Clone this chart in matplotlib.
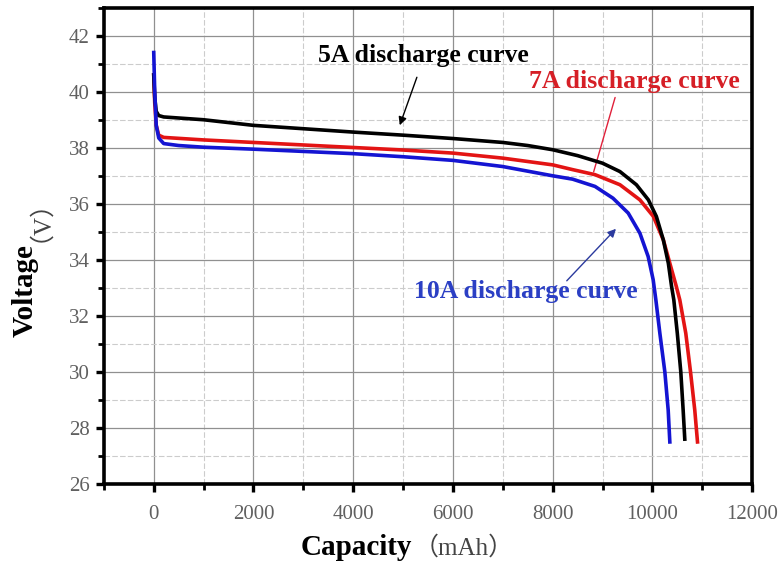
#Discharge curves of the battery pack at 5A, 7A and 10A
#Import Packages
import numpy as np
import matplotlib.pyplot as plt
from matplotlib.ticker import MultipleLocator

# 5A discharge (black)
cap_5a = [0, 20, 50, 100, 200, 1000, 2000, 3000, 4000, 5000, 6000, 7000, 7500, 8000,
          8500, 9000, 9350, 9680, 9920, 10080, 10220, 10320, 10385, 10430, 10500, 10570, 10617, 10650]
volt_5a = [40.6, 39.8, 39.3, 39.15, 39.1, 39.0, 38.8, 38.68, 38.56, 38.45, 38.33, 38.19, 38.08, 37.93,
           37.72, 37.45, 37.15, 36.68, 36.14, 35.55, 34.71, 33.88, 33.05, 32.57, 31.38, 30.0, 28.64, 27.6]

# 7A discharge (red)
cap_7a = [0, 20, 50, 100, 200, 1000, 2000, 3000, 4000, 5000, 6000, 7000, 8000,
          8400, 8850, 9350, 9750, 10020, 10220, 10350, 10480, 10550, 10670, 10765, 10850, 10905]
volt_7a = [40.6, 39.6, 38.8, 38.45, 38.37, 38.28, 38.19, 38.1, 38.01, 37.92, 37.81, 37.63, 37.39,
           37.22, 37.04, 36.68, 36.14, 35.55, 34.71, 33.88, 33.05, 32.57, 31.38, 30.0, 28.64, 27.5]

# 10A discharge (blue)
cap_10a = [0, 20, 50, 100, 200, 500, 1000, 2000, 3000, 4000, 5000, 6000, 7000, 8000,
           8400, 8850, 9210, 9515, 9750, 9915, 10016, 10070, 10150, 10250, 10317, 10350]
volt_10a = [41.4, 40.0, 38.8, 38.35, 38.15, 38.08, 38.02, 37.95, 37.87, 37.79, 37.68, 37.55, 37.33, 37.0,
            36.88, 36.62, 36.2, 35.67, 34.95, 34.12, 33.29, 32.57, 31.38, 30.0, 28.64, 27.5]

serif = ['Liberation Serif', 'Noto Sans CJK SC', 'DejaVu Serif']
tick_grey = '#606060'

fig = plt.figure(figsize=(7.81, 5.65), dpi=100)
ax = fig.add_axes([0.133, 0.1434, 0.830, 0.843])

ax.plot(cap_7a, volt_7a, color='#e31414', lw=2.6, zorder=3, solid_joinstyle='round')
ax.plot(cap_5a, volt_5a, color='black', lw=2.6, zorder=4, solid_joinstyle='round')
ax.plot(cap_10a, volt_10a, color='#1414d2', lw=2.6, zorder=5, solid_joinstyle='round')

ax.set_xlim(-1000, 12000)
ax.set_ylim(26, 43)
ax.xaxis.set_major_locator(MultipleLocator(2000))
ax.xaxis.set_minor_locator(MultipleLocator(1000))
ax.yaxis.set_major_locator(MultipleLocator(2))
ax.yaxis.set_minor_locator(MultipleLocator(1))

ax.grid(which='major', color='#909090', lw=0.9, ls='-', zorder=0)
ax.grid(which='minor', color='#cccccc', lw=0.8, ls=(0, (5, 2)), zorder=0)

for s in ax.spines.values():
    s.set_linewidth(2.6)
ax.tick_params(which='major', direction='out', length=6, width=2.4, top=False, right=False,
               labelsize=15, labelcolor=tick_grey)
ax.tick_params(axis='x', which='major', pad=9)
ax.tick_params(axis='y', which='major', pad=4)
ax.tick_params(which='minor', direction='out', length=4, width=2.0, top=False, right=False)
for lab in ax.get_xticklabels() + ax.get_yticklabels():
    lab.set_family(serif)

# axis titles: bold word + light unit
ax.text(0.476, -0.134, 'Capacity', transform=ax.transAxes, ha='right', va='center',
        fontsize=21, fontweight='bold', family=serif)
ax.text(0.478, -0.134, '（mAh）', transform=ax.transAxes, ha='left', va='center',
        fontsize=18, color='#444444', family=serif)
ax.text(-0.122, 0.504, 'Voltage', transform=ax.transAxes, ha='right', va='center',
        rotation=90, rotation_mode='anchor', fontsize=21, fontweight='bold', family=serif)
ax.text(-0.118, 0.508, '（V）', transform=ax.transAxes, ha='left', va='center',
        rotation=90, rotation_mode='anchor', fontsize=18, color='#444444', family=serif)

# curve annotations
ax.text(5400, 41.3, '5A discharge curve', ha='center', va='center', fontsize=18.5,
        fontweight='bold', color='black', family=serif)
ax.annotate('', xy=(4915, 38.71), xytext=(5296, 40.61),
            arrowprops=dict(arrowstyle='-|>', color='black', lw=1.0, mutation_scale=12))

ax.text(9630, 40.36, '7A discharge curve', ha='center', va='center', fontsize=18.5,
        fontweight='bold', color='#d61f26', family=serif)
ax.annotate('', xy=(8806, 37.04), xytext=(9268, 39.89),
            arrowprops=dict(arrowstyle='-', color='#e0203a', lw=1.0))

ax.text(7460, 32.86, '10A discharge curve', ha='center', va='center', fontsize=18.5,
        fontweight='bold', color='#2b3fc4', family=serif)
ax.annotate('', xy=(9308, 35.18), xytext=(8245, 33.18),
            arrowprops=dict(arrowstyle='-|>', color='#2b3a9e', lw=1.0, mutation_scale=12))

fig.savefig('out.png', dpi=100)
